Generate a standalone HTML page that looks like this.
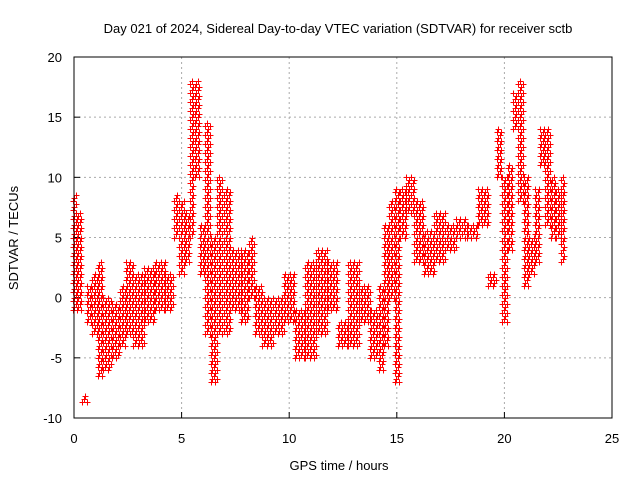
<!DOCTYPE html>
<html><head><meta charset="utf-8"><style>
body{margin:0;background:#fff;font-family:"Liberation Sans",sans-serif}
svg text{font-family:"Liberation Sans",sans-serif;font-size:13px;fill:#000}
</style></head><body>
<svg id="c" width="640" height="480">
<rect width="640" height="480" fill="#fff"/>
<text x="338" y="33" text-anchor="middle">Day 021 of 2024, Sidereal Day-to-day VTEC variation (SDTVAR) for receiver sctb</text>
<text x="339" y="470" text-anchor="middle">GPS time / hours</text>
<text transform="translate(18,238) rotate(-90)" text-anchor="middle">SDTVAR / TECUs</text>
<g id="grid"></g><g id="marks"></g>
<rect x="74" y="57" width="538" height="361" fill="none" stroke="#000"/>
</svg>
<script>
const xTicks=[0,5,10,15,20,25];
const yTicks=[-10,-5,0,5,10,15,20];
const times=[0,0.25,0.5,0.7,1.0,1.2,1.5,2.0,2.3,2.5,3.0,3.5,4.0,4.5,4.8,5.0,5.3,5.5,5.7,6.0,6.2,6.5,6.8,7.0,7.5,8.0,8.3,8.5,9.0,9.5,10,10.5,11,11.5,12,12.5,13,13.5,14,14.3,14.5,14.8,15,15.3,15.6,16,16.5,17,17.5,18,18.5,19,19.5,19.8,20,20.3,20.5,20.8,21,21.3,21.5,21.8,22,22.3,22.5,22.8];
const lows=[-1,-1,-8.7,-2,-3,-6.5,-6,-5,-4,-3,-4,-2,-1,-1,5,2,3,5,10,2,-3,-7,-3,-3,-1,-2,0,-3,-4,-3,-2,-5,-5,-3,-1,-4,-4,-2,-5,-6,-4,0,-7,5,7,3,2,3,4,5,5,6,1,10,-2,4,14,8,1,2,3,11,6,5,5,3];
const highs=[8.7,7,-8,1,2,3,0,-0.5,1,3,2,2.5,3,2,8.5,8,7,18,18,6,14.5,5,10,9,4,4,5,1,0,0,2,-1,3,4,3,-2,3,1,-1,1,6,8,9,9,10,8,5.5,7,6,6.5,6,9,2,14,10,11,17,18,10,5,9,14,14,10,9,10];
const X=t=>74+t*538/25, Y=v=>418-(v+10)*361/30;
const ns="http://www.w3.org/2000/svg";
const g=document.getElementById('grid'),m=document.getElementById('marks');
function mk(tag,at,p){const e=document.createElementNS(ns,tag);for(const k in at)e.setAttribute(k,at[k]);p.appendChild(e);return e;}
xTicks.forEach(t=>{
 if(t>0&&t<25){const l=mk('line',{x1:X(t),x2:X(t),y1:57,y2:418,stroke:'#aaa','stroke-dasharray':'2,3'},g);
 
 }
 mk('line',{x1:X(t),x2:X(t),y1:418,y2:412,stroke:'#000'},g);
 const tx=mk('text',{x:X(t),y:443,'text-anchor':'middle'},g);tx.textContent=t;
 
 
});
yTicks.forEach(v=>{
 if(v>-10&&v<20){const l=mk('line',{x1:74,x2:612,y1:Y(v),y2:Y(v),stroke:'#aaa','stroke-dasharray':'2,3'},g);
 
 }
 mk('line',{x1:74,x2:80,y1:Y(v),y2:Y(v),stroke:'#000'},g);
 const tx=mk('text',{x:62,y:Y(v)+5,'text-anchor':'end'},g);tx.textContent=v;
 
 
});
let d='';
times.forEach((t,i)=>{
 const lo=lows[i],hi=highs[i];
 const prev=i>0?times[i-1]:t-0.1, next=i<times.length-1?times[i+1]:t+0.1;
 const a=t-Math.min(0.25,(t-prev)/2), b=t+Math.min(0.25,(next-t)/2);
 let k=0;
 for(let tt=a;tt<=b+1e-6;tt+=0.07,k++){
  for(let v=lo+(k%3)*0.25;v<=hi+0.01;v+=0.75){
   const x=Math.round(X(tt))+0.5,y=Math.round(Y(Math.min(v,hi)))+0.5;
   d+=`M${x-3},${y}h6M${x},${y-3}v6`;
  }
 }
});
const p=mk('path',{d:d,stroke:'#f00','stroke-width':1,fill:'none','shape-rendering':'crispEdges'},m);


</script>
</body></html>
